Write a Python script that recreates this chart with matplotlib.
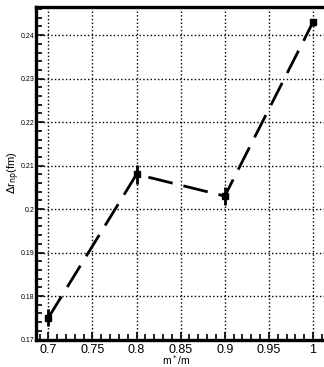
import matplotlib
matplotlib.use('Agg')
import matplotlib.pyplot as plt
from matplotlib.ticker import MultipleLocator

plt.rcParams['font.family'] = ['Liberation Sans', 'DejaVu Sans']

# datos
mass_ratio = [0.7, 0.8, 0.9, 1.0]
delta_rnp = [0.175, 0.208, 0.203, 0.243]
err = [0.002, 0.0022, 0.002, 0.0008]

fig = plt.figure(figsize=(3.24, 3.67), dpi=100)
ax = fig.add_axes([36 / 324, 27.5 / 367, 292 / 324, 333 / 367])

ax.errorbar(mass_ratio, delta_rnp, yerr=err, color='black', lw=2,
            dashes=(9, 4), marker='s', ms=5, elinewidth=2, capsize=0)

ax.set_xlim(0.686, 1.017)
ax.set_ylim(0.17, 0.2466)
ax.xaxis.set_minor_locator(MultipleLocator(0.01))
ax.yaxis.set_minor_locator(MultipleLocator(0.002))
ax.set_xticks([0.7, 0.75, 0.8, 0.85, 0.9, 0.95, 1.0])
ax.set_xticklabels(['0.7', '0.75', '0.8', '0.85', '0.9', '0.95', '1'])
ax.set_yticks([0.17, 0.18, 0.19, 0.2, 0.21, 0.22, 0.23, 0.24])
ax.set_yticklabels(['0.17', '0.18', '0.19', '0.2', '0.21', '0.22', '0.23', '0.24'])

ax.grid(True, which='major', color='black', linestyle=':', lw=1)
ax.tick_params(axis='both', which='both', direction='in', width=1.2)
ax.tick_params(axis='both', which='major', length=6)
ax.tick_params(axis='both', which='minor', length=4)
ax.tick_params(axis='x', labelsize=9, pad=3)
ax.tick_params(axis='y', labelsize=5, pad=1)

for s in ax.spines.values():
    s.set_linewidth(2.4)

ax.set_xlabel('m$^*$/m', fontsize=7.5, va='center')
ax.xaxis.set_label_coords(0.48, -0.063)
ax.set_ylabel(r'$\Delta$r$_{\rm np}$(fm)', fontsize=8, va='center')
ax.yaxis.set_label_coords(-0.075, 0.5)

fig.savefig('out.png', dpi=100)
